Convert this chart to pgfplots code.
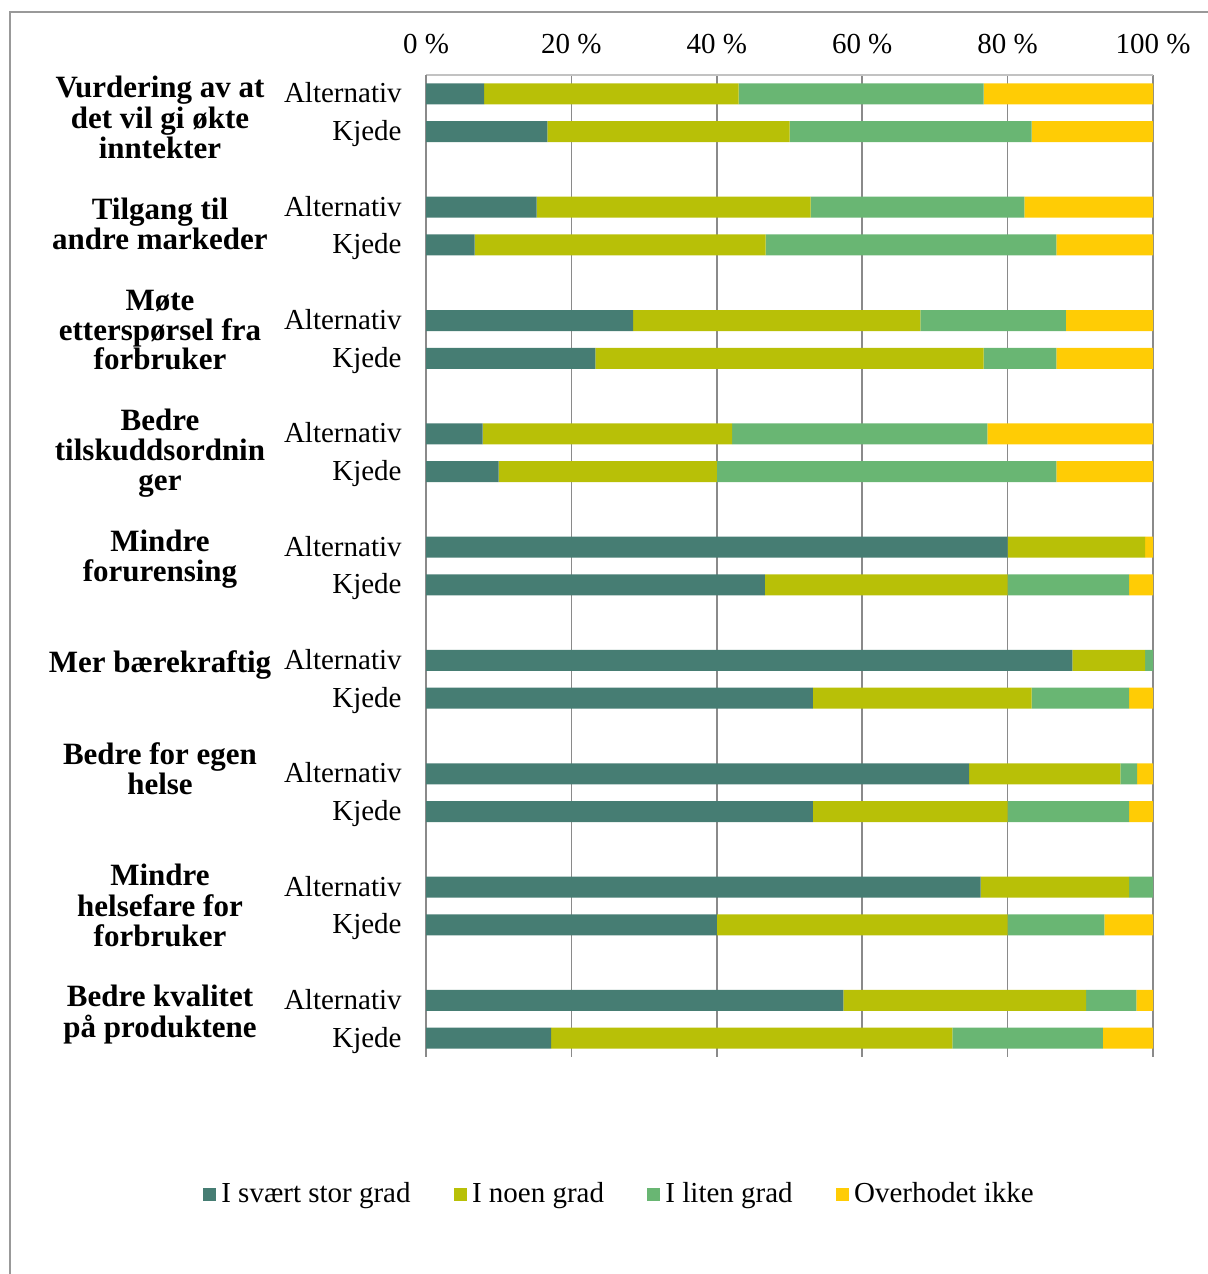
\documentclass[border=0pt]{standalone}
\usepackage{fontspec}
\setmainfont{Liberation Serif}
\usepackage{pgfplots}
\usepackage{pgfplotstable}
\pgfplotsset{compat=1.18}
\definecolor{cA}{HTML}{467D73}
\definecolor{cB}{HTML}{B8C007}
\definecolor{cC}{HTML}{69B673}
\definecolor{cD}{HTML}{FFCC05}
\definecolor{gridc}{HTML}{8A8A8A}
\definecolor{framec}{HTML}{999999}
\pgfplotstableread{
y a b c d
0 8.0 35.0 33.7 23.3
1 16.7 33.3 33.3 16.7
3 15.2 37.7 29.4 17.7
4 6.7 40.0 40.0 13.3
6 28.5 39.5 20.0 12.0
7 23.3 53.4 10.0 13.3
9 7.8 34.3 35.1 22.8
10 10.0 30.0 46.7 13.3
12 80.0 18.9 0.0 1.1
13 46.6 33.4 16.7 3.3
15 88.9 10.0 1.1 0.0
16 53.2 30.1 13.4 3.3
18 74.7 20.8 2.3 2.2
19 53.2 26.8 16.7 3.3
21 76.3 20.4 3.3 0.0
22 40.0 40.0 13.3 6.7
24 57.4 33.4 6.9 2.3
25 17.2 55.2 20.7 6.9
}\data
\begin{document}
\begin{tikzpicture}[font=\fontsize{14.5}{17.4}\selectfont]
\path[use as bounding box] (0,0) rectangle (604pt,-637pt);
\draw[framec, line width=1pt] (5pt,-637pt) -- (5pt,-6pt) -- (604pt,-6pt);
\begin{axis}[
  at={(213pt,-528.5pt)}, anchor=south west,
  scale only axis, width=363.5pt, height=491pt,
  xbar stacked, bar width=10.5pt,
  xmin=0, xmax=100, ymin=-0.5, ymax=25.5, y dir=reverse,
  separate axis lines,
  axis x line*=top, axis y line*=left,
  x axis line style={draw=framec!60, line width=0.8pt},
  y axis line style={draw=gridc, line width=0.8pt},
  xtick={0,20,40,60,80,100},
  xticklabels={0 \%,20 \%,40 \%,60 \%,80 \%,100 \%},
  xticklabel pos=upper,
  xticklabel style={anchor=base, inner sep=0pt, yshift=11pt},
  xmajorgrids, major grid style={gridc, line width=0.8pt},
  ytick={0,1,3,4,6,7,9,10,12,13,15,16,18,19,21,22,24,25},
  yticklabels={Alternativ,Kjede,Alternativ,Kjede,Alternativ,Kjede,Alternativ,Kjede,Alternativ,Kjede,Alternativ,Kjede,Alternativ,Kjede,Alternativ,Kjede,Alternativ,Kjede},
  yticklabel style={anchor=east, inner sep=0pt, xshift=-12pt, text height=12pt, text depth=3pt},
  major tick length=0pt,
  legend columns=4,
  legend style={at={(0.2648,-0.1395)}, anchor=center, draw=none, fill=none,
    font=\fontsize{14.5}{17.4}\selectfont,
    nodes={inner sep=0pt},
    /tikz/every odd column/.append style={column sep=2.5pt},
    /tikz/every even column/.append style={column sep=21.7pt}},
  legend image code/.code={\path[#1,draw=none] (0pt,-3.25pt) rectangle (6.5pt,3.25pt);},
]
\addplot[fill=cA, draw=none] table[x=a, y=y] {\data};
\addplot[fill=cB, draw=none] table[x=b, y=y] {\data};
\addplot[fill=cC, draw=none] table[x=c, y=y] {\data};
\addplot[fill=cD, draw=none] table[x=d, y=y] {\data};
\legend{I svært stor grad, I noen grad, I liten grad, Overhodet ikke}
\end{axis}
\begin{scope}[every node/.style={anchor=base, inner sep=0pt, font=\fontsize{15.5}{18}\selectfont\bfseries}]
\node at (80pt,-48.5pt) {Vurdering av at};
\node at (80pt,-64pt) {det vil gi økte};
\node at (80pt,-79pt) {inntekter};
\node at (80pt,-109.5pt) {Tilgang til};
\node at (80pt,-124.5pt) {andre markeder};
\node at (80pt,-155pt) {Møte};
\node at (80pt,-170pt) {etterspørsel fra};
\node at (80pt,-184.5pt) {forbruker};
\node at (80pt,-215pt) {Bedre};
\node at (80pt,-230pt) {tilskuddsordnin};
\node at (80pt,-245pt) {ger};
\node at (80pt,-275.5pt) {Mindre};
\node at (80pt,-290.5pt) {forurensing};
\node at (80pt,-336pt) {Mer bærekraftig};
\node at (80pt,-382pt) {Bedre for egen};
\node at (80pt,-397pt) {helse};
\node at (80pt,-442.5pt) {Mindre};
\node at (80pt,-458pt) {helsefare for};
\node at (80pt,-473pt) {forbruker};
\node at (80pt,-503pt) {Bedre kvalitet};
\node at (80pt,-518.5pt) {på produktene};
\end{scope}
\end{tikzpicture}
\end{document}
